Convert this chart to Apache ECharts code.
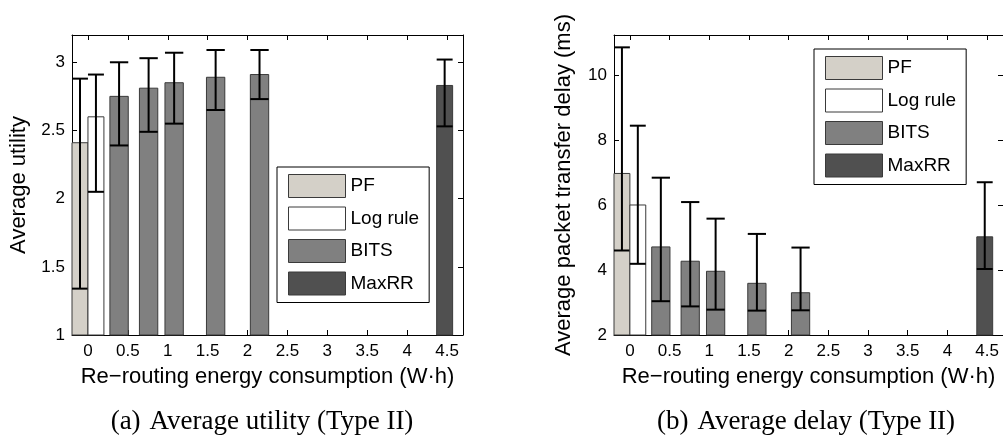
<!DOCTYPE html>
<html lang="en">
<head>
  <meta charset="UTF-8">
  <title>Average utility and delay (Type II)</title>
  <script src="https://cdn.jsdelivr.net/npm/echarts@6.0.0/dist/echarts.min.js"></script>
  <style>
    html, body {
      margin: 0;
      padding: 0;
      background: #fff;
    }
    #main {
      width: 1003px;
      height: 439px;
    }
  </style>
</head>
<body>
  <div id="main"></div>

  <script>
    // re-routing energy consumption (W·h) on the x axis
    const energyTicks = [0, 0.5, 1, 1.5, 2, 2.5, 3, 3.5, 4, 4.5];
    const pfEnergy = [0];
    const logEnergy = [0];
    const bitsEnergy = [0.39, 0.76, 1.08, 1.60, 2.15];
    const maxrrEnergy = [4.47];

    // (a) average utility: mean, lower and upper error bound
    const utilTicks = [1, 1.5, 2, 2.5, 3];
    const pfUtil = [2.41], pfUtilLo = [1.34], pfUtilHi = [2.88];
    const logUtil = [2.60], logUtilLo = [2.05], logUtilHi = [2.91];
    const bitsUtil = [2.75, 2.81, 2.85, 2.89, 2.91];
    const bitsUtilLo = [2.39, 2.49, 2.55, 2.65, 2.73];
    const bitsUtilHi = [3.00, 3.03, 3.07, 3.09, 3.09];
    const maxrrUtil = [2.83], maxrrUtilLo = [2.53], maxrrUtilHi = [3.02];

    // (b) average packet transfer delay (ms)
    const delayTicks = [2, 4, 6, 8, 10];
    const pfDelay = [6.97], pfDelayLo = [4.60], pfDelayHi = [10.85];
    const logDelay = [6.00], logDelayLo = [4.19], logDelayHi = [8.44];
    const bitsDelay = [4.71, 4.27, 3.96, 3.59, 3.30];
    const bitsDelayLo = [3.04, 2.88, 2.78, 2.75, 2.76];
    const bitsDelayHi = [6.84, 6.09, 5.58, 5.11, 4.69];
    const maxrrDelay = [5.02], maxrrDelayLo = [4.03], maxrrDelayHi = [6.70];

    const sans = 'Liberation Sans';
    const serif = 'Liberation Serif';
    const colors = { PF: '#d4d0c8', 'Log rule': '#ffffff', BITS: '#808080', MaxRR: '#505050' };

    // bar + error bar, drawn through the axis scales
    function barRender(offset, width, base, color) {
      return function (params, api) {
        const x = api.value(0) + offset;
        const p0 = api.coord([x - width / 2, api.value(1)]);
        const p1 = api.coord([x + width / 2, base]);
        const cs = params.coordSys;
        const rect = echarts.graphic.clipRectByRect(
          { x: p0[0], y: p0[1], width: p1[0] - p0[0], height: p1[1] - p0[1] },
          { x: cs.x, y: cs.y, width: cs.width, height: cs.height }
        );
        const lo = api.coord([x, api.value(2)]);
        const hi = api.coord([x, api.value(3)]);
        const half = (p1[0] - p0[0]) / 2;
        const err = { stroke: '#000', lineWidth: 2 };
        const children = [
          { type: 'line', shape: { x1: lo[0], y1: lo[1], x2: hi[0], y2: hi[1] }, style: err },
          { type: 'line', shape: { x1: hi[0] - half, y1: hi[1], x2: hi[0] + half, y2: hi[1] }, style: err },
          { type: 'line', shape: { x1: lo[0] - half, y1: lo[1], x2: lo[0] + half, y2: lo[1] }, style: err }
        ];
        if (rect) {
          children.unshift({ type: 'rect', shape: rect, style: { fill: color, stroke: '#3a3a3a', lineWidth: 1 } });
        }
        return { type: 'group', children: children };
      };
    }

    function makeSeries(name, energy, mean, lo, hi, offset, width, base, idx) {
      return {
        type: 'custom',
        name: name,
        xAxisIndex: idx * 2,
        yAxisIndex: idx * 2,
        itemStyle: { color: colors[name], borderColor: '#3a3a3a', borderWidth: 1 },
        renderItem: barRender(offset, width, base, colors[name]),
        data: energy.map((e, i) => [e, mean[i], lo[i], hi[i]])
      };
    }

    function makeXAxes(gridIndex) {
      const common = {
        type: 'value',
        gridIndex: gridIndex,
        min: -0.2,
        max: 4.7,
        splitLine: { show: false },
        axisLine: { show: true, onZero: false, lineStyle: { color: '#000', width: 1 } },
        axisTick: { show: true, inside: true, length: 5, customValues: energyTicks, lineStyle: { color: '#000' } }
      };
      return [
        Object.assign({}, common, {
          position: 'bottom',
          axisLabel: { customValues: energyTicks, margin: 8, fontSize: 17, color: '#000', fontFamily: sans },
          name: 'Re\u2212routing energy consumption (W\u00b7h)',
          nameLocation: 'middle',
          nameGap: 31,
          nameTextStyle: { fontSize: 22, color: '#000', fontFamily: sans }
        }),
        Object.assign({}, common, { position: 'top', axisLabel: { show: false } })
      ];
    }

    function makeYAxes(gridIndex, min, max, ticks, name, gap) {
      const common = {
        type: 'value',
        gridIndex: gridIndex,
        min: min,
        max: max,
        splitLine: { show: false },
        axisLine: { show: true, onZero: false, lineStyle: { color: '#000', width: 1 } },
        axisTick: { show: true, inside: true, length: 5, customValues: ticks, lineStyle: { color: '#000' } }
      };
      return [
        Object.assign({}, common, {
          position: 'left',
          axisLabel: { customValues: ticks, margin: 7, fontSize: 17, color: '#000', fontFamily: sans },
          name: name,
          nameLocation: 'middle',
          nameGap: gap,
          nameTextStyle: { fontSize: 22, color: '#000', fontFamily: sans }
        }),
        Object.assign({}, common, { position: 'right', axisLabel: { show: false } })
      ];
    }

    function makeLegend(left, top) {
      return {
        orient: 'vertical',
        left: left,
        top: top,
        icon: 'rect',
        itemWidth: 57,
        itemHeight: 23,
        itemGap: 8.5,
        padding: [7, 10, 7, 11],
        borderColor: '#000',
        borderWidth: 1,
        backgroundColor: '#fff',
        selectedMode: false,
        textStyle: { fontSize: 19, color: '#000', fontFamily: sans },
        data: Object.keys(colors).map(n => ({
          name: n,
          itemStyle: { color: colors[n], borderColor: '#3a3a3a', borderWidth: 1 }
        }))
      };
    }

    const chart = echarts.init(document.getElementById('main'), null, { renderer: 'canvas' });
    const option = {
      animation: false,
      backgroundColor: '#fff',
      title: [
        {
          text: '(a)\u2004Average utility (Type II)',
          left: 257, top: 403, textAlign: 'center',
          textStyle: { fontFamily: serif, fontSize: 27, fontWeight: 'normal', color: '#000' }
        },
        {
          text: '(b)\u2004Average delay (Type II)',
          left: 801, top: 403, textAlign: 'center',
          textStyle: { fontFamily: serif, fontSize: 27, fontWeight: 'normal', color: '#000' }
        }
      ],
      grid: [
        { left: 72, top: 35, width: 391, height: 300 },
        { left: 614, top: 35, width: 392, height: 300 }
      ],
      legend: [makeLegend(277, 167), makeLegend(814, 49)],
      xAxis: makeXAxes(0).concat(makeXAxes(1)),
      yAxis: makeYAxes(0, 1, 3.2, utilTicks, 'Average utility', 42)
        .concat(makeYAxes(1, 2, 11.23, delayTicks, 'Average packet transfer delay (ms)', 39)),
      series: [
        makeSeries('PF', pfEnergy, pfUtil, pfUtilLo, pfUtilHi, -0.1, 0.2, 1, 0),
        makeSeries('Log rule', logEnergy, logUtil, logUtilLo, logUtilHi, 0.1, 0.2, 1, 0),
        makeSeries('BITS', bitsEnergy, bitsUtil, bitsUtilLo, bitsUtilHi, 0, 0.23, 1, 0),
        makeSeries('MaxRR', maxrrEnergy, maxrrUtil, maxrrUtilLo, maxrrUtilHi, 0, 0.2, 1, 0),
        makeSeries('PF', pfEnergy, pfDelay, pfDelayLo, pfDelayHi, -0.1, 0.2, 2, 1),
        makeSeries('Log rule', logEnergy, logDelay, logDelayLo, logDelayHi, 0.1, 0.2, 2, 1),
        makeSeries('BITS', bitsEnergy, bitsDelay, bitsDelayLo, bitsDelayHi, 0, 0.23, 2, 1),
        makeSeries('MaxRR', maxrrEnergy, maxrrDelay, maxrrDelayLo, maxrrDelayHi, 0, 0.2, 2, 1)
      ]
    };
    chart.setOption(option);
  </script>
</body>
</html>
